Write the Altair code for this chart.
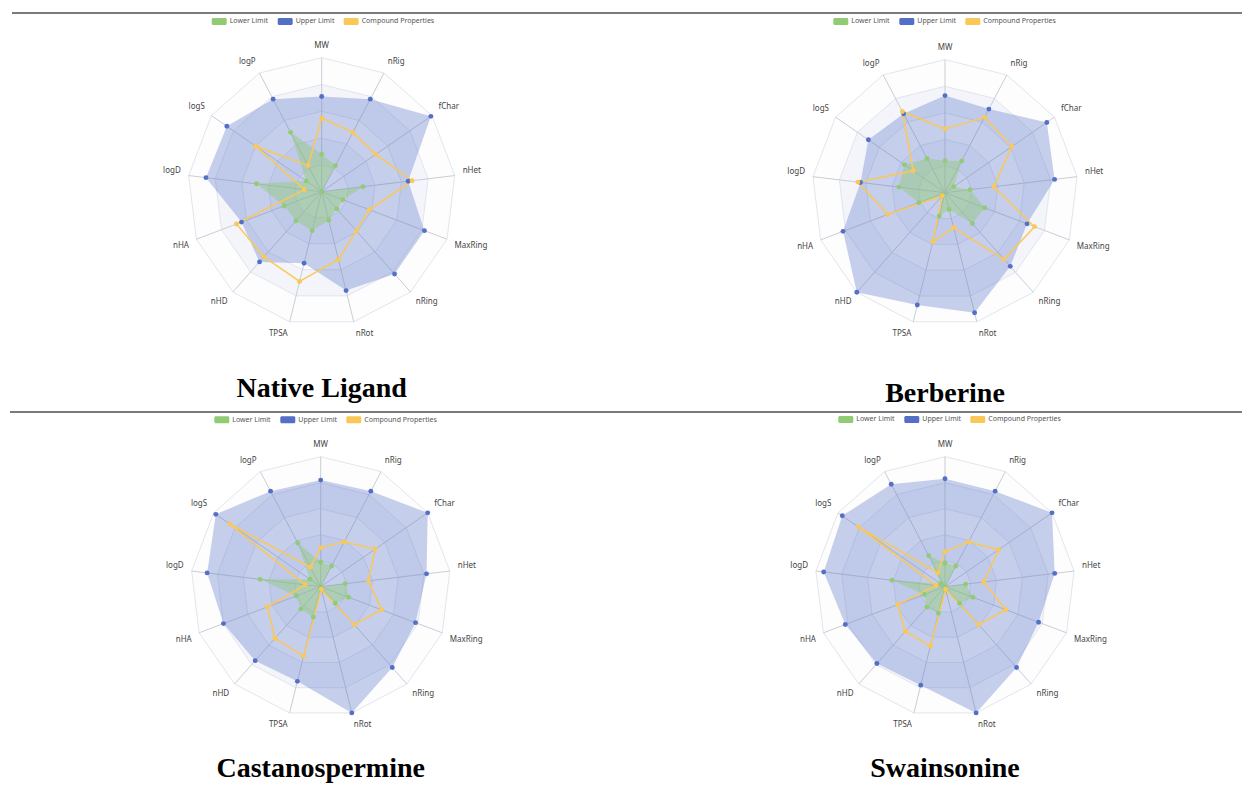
import altair as alt
import pandas as pd

# ---------------- data ----------------
AXES = ["MW", "nRig", "fChar", "nHet", "MaxRing", "nRing", "nRot",
        "TPSA", "nHD", "nHA", "logD", "logS", "logP"]
SERIES = ["Lower Limit", "Upper Limit", "Compound Properties"]
PANELS = ["Native Ligand", "Berberine", "Castanospermine", "Swainsonine"]

# normalised values (fraction of the outer ring)
native_lower = [0.28, 0.22, 0.00, 0.31, 0.17, 0.17, 0.22, 0.30, 0.29, 0.30, 0.49, 0.14, 0.50]
native_upper = [0.71, 0.78, 0.99, 0.65, 0.82, 0.82, 0.76, 0.55, 0.70, 0.64, 0.87, 0.86, 0.78]
native_comp = [0.55, 0.50, 0.49, 0.68, 0.38, 0.39, 0.52, 0.69, 0.65, 0.68, 0.13, 0.60, 0.22]

berberine_lower = [0.24, 0.27, 0.08, 0.19, 0.32, 0.31, 0.13, 0.18, 0.03, 0.21, 0.35, 0.37, 0.29]
berberine_upper = [0.73, 0.71, 0.93, 0.83, 0.66, 0.74, 0.93, 0.87, 1.00, 0.82, 0.64, 0.70, 0.67]
berberine_comp = [0.48, 0.64, 0.61, 0.37, 0.72, 0.67, 0.27, 0.38, 0.03, 0.46, 0.66, 0.29, 0.69]

castano_lower = [0.19, 0.18, 0.00, 0.19, 0.23, 0.17, 0.02, 0.24, 0.23, 0.20, 0.47, 0.10, 0.38]
castano_upper = [0.82, 0.83, 1.00, 0.82, 0.78, 0.83, 1.00, 0.75, 0.76, 0.80, 0.88, 0.98, 0.83]
castano_comp = [0.30, 0.39, 0.51, 0.37, 0.50, 0.39, 0.02, 0.55, 0.53, 0.44, 0.12, 0.85, 0.17]

swain_lower = [0.18, 0.18, 0.00, 0.16, 0.23, 0.17, 0.02, 0.21, 0.21, 0.17, 0.41, 0.04, 0.27]
swain_upper = [0.83, 0.83, 1.00, 0.85, 0.77, 0.83, 1.00, 0.78, 0.79, 0.82, 0.94, 0.96, 0.89]
swain_comp = [0.27, 0.39, 0.50, 0.30, 0.50, 0.39, 0.02, 0.47, 0.46, 0.39, 0.07, 0.81, 0.12]

RINGS = [1.0, 0.8, 0.6, 0.4, 0.2]

PANEL_VALUES = {
    "Native Ligand": [native_lower, native_upper, native_comp],
    "Berberine": [berberine_lower, berberine_upper, berberine_comp],
    "Castanospermine": [castano_lower, castano_upper, castano_comp],
    "Swainsonine": [swain_lower, swain_upper, swain_comp],
}

rows = []
for p in PANELS:
    for s, vals in zip(SERIES, PANEL_VALUES[p]):
        for i, (a, v) in enumerate(zip(AXES, vals)):
            rows.append({"panel": p, "series": s, "axis": a, "i": i, "v": v})
df = pd.DataFrame(rows)

grid_df = pd.DataFrame([{"ring": r, "i": i, "v": r} for r in RINGS for i in range(len(AXES))])
axis_df = pd.DataFrame([{"axis": a, "i": i, "v": 1.0} for i, a in enumerate(AXES)])

# ---------------- layout / style ----------------
W, H = 1234, 775
COLORS = ["#91cc75", "#5470c6", "#fac858"]
LAYOUT = {  # centre x, centre y, radius, legend x, legend y, title baseline (page px)
    "Native Ligand": (321.7, 191.7, 134, 203.7, 5.5, 396.7),
    "Berberine": (945.0, 192.7, 133, 825.3, 5.5, 401.7),
    "Castanospermine": (320.7, 586.7, 130, 206.3, 403.8, 777.0),
    "Swainsonine": (945.0, 586.7, 130, 830.3, 403.5, 777.0),
}
BAND_FILL = {1.0: "#fdfdfd", 0.8: "#f3f5fb", 0.6: "#fdfdfd", 0.4: "#f3f5fb", 0.2: "#fdfdfd"}
RECT = ("M-0.8,-0.47H0.8A0.2,0.2 0 0 1 1,-0.27V0.27A0.2,0.2 0 0 1 0.8,0.47"
        "H-0.8A0.2,0.2 0 0 1 -1,0.27V-0.27A0.2,0.2 0 0 1 -0.8,-0.47Z")

XS = alt.Scale(domain=[8, 8 + W], nice=False, zero=False)
YS = alt.Scale(domain=[8, 8 + H], nice=False, zero=False, reverse=True)
X = alt.X("x:Q", scale=XS, axis=None)
Y = alt.Y("y:Q", scale=YS, axis=None)
ANG = "datum.i * 2 * PI / 13"


def polar(chart, cx, cy, R, gap=0.0):
    return chart.transform_calculate(
        x=f"{cx} + (datum.v * {R} + {gap}) * sin({ANG})",
        y=f"{cy} - (datum.v * {R} + {gap}) * cos({ANG})",
    )


def panel(name):
    cx, cy, R, lx, ly, _ = LAYOUT[name]
    layers = []
    # split areas + ring lines
    for r in RINGS:
        c = alt.Chart(grid_df).transform_filter(f"datum.ring == {r}")
        c = polar(c, cx, cy, R).mark_line(
            interpolate="linear-closed", fill=BAND_FILL[r], stroke="#e1e5ee", strokeWidth=1
        ).encode(x=X, y=Y, order="i:Q")
        layers.append(c)
    # spokes
    spokes = alt.Chart(axis_df).transform_calculate(
        x=f"{cx}", y=f"{cy}",
        x2=f"{cx} + {R} * sin({ANG})", y2=f"{cy} - {R} * cos({ANG})",
    ).mark_rule(color="#c9cdd5", strokeWidth=1).encode(x=X, y=Y, x2="x2:Q", y2="y2:Q")
    layers.append(spokes)

    data = alt.Chart(df).transform_filter(alt.datum.panel == name)
    fill_scale = alt.Scale(domain=SERIES, range=COLORS)
    for s, op in [("Upper Limit", 0.33), ("Lower Limit", 0.45)]:
        a = polar(data.transform_filter(alt.datum.series == s), cx, cy, R).mark_line(
            interpolate="linear-closed", fillOpacity=op, strokeOpacity=0
        ).encode(x=X, y=Y, order="i:Q", fill=alt.Fill("series:N", scale=fill_scale, legend=None))
        layers.append(a)
    comp = polar(data.transform_filter(alt.datum.series == "Compound Properties"), cx, cy, R).mark_line(
        interpolate="linear-closed", strokeWidth=1.5, color="#fac858"
    ).encode(x=X, y=Y, order="i:Q")
    layers.append(comp)
    pts = polar(data, cx, cy, R).mark_point(filled=True, size=24, opacity=1).encode(
        x=X, y=Y,
        color=alt.Color(
            "series:N",
            scale=alt.Scale(domain=SERIES, range=COLORS),
            legend=alt.Legend(
                orient="none", legendX=lx, legendY=ly, direction="horizontal", title=None,
                symbolType=RECT, symbolSize=225, symbolStrokeWidth=0, symbolOpacity=1,
                labelFont="Noto Sans", labelFontSize=7, labelColor="#555555",
                labelOffset=3, columnPadding=9, padding=0,
            ),
        ),
    )
    layers.append(pts)
    # indicator names
    groups = [
        ("datum.i == 0", "center", "bottom"),
        ("datum.i >= 1 && datum.i <= 3", "left", "bottom"),
        ("datum.i >= 4 && datum.i <= 6", "left", "top"),
        ("datum.i >= 7 && datum.i <= 9", "right", "top"),
        ("datum.i >= 10", "right", "bottom"),
    ]
    for flt, al, bl in groups:
        t = polar(alt.Chart(axis_df).transform_filter(flt), cx, cy, R, gap=8).mark_text(
            align=al, baseline=bl, font="Noto Sans", fontSize=8, color="#444444"
        ).encode(x=X, y=Y, text="axis:N")
        layers.append(t)
    return alt.layer(*layers)


panels = [panel(p) for p in PANELS]

rules = [
    alt.Chart(pd.DataFrame({"y": [13]})).mark_rule(color="#7b7b7b", strokeWidth=2).encode(
        y=Y, x=alt.value(4), x2=alt.value(W)),
    alt.Chart(pd.DataFrame({"y": [412]})).mark_rule(color="#7b7b7b", strokeWidth=2).encode(
        y=Y, x=alt.value(2), x2=alt.value(W)),
]

titles = []
for p in PANELS:
    cx, cy, R, lx, ly, tb = LAYOUT[p]
    titles.append(
        alt.Chart(pd.DataFrame({"name": [p], "x": [cx], "y": [tb]})).mark_text(
            font="Liberation Serif", fontSize=28, fontWeight="bold", color="#000000",
            align="center", baseline="alphabetic"
        ).encode(x=X, y=Y, text="name:N")
    )

chart = alt.layer(*panels, *rules, *titles).resolve_scale(color="independent").resolve_legend(
    color="independent"
).properties(
    width=W, height=H, padding=0, autosize=alt.AutoSizeParams(type="none"), background="white"
).configure_view(strokeWidth=0)

chart.save("out.html", embed_options={"renderer": "svg", "actions": False})
